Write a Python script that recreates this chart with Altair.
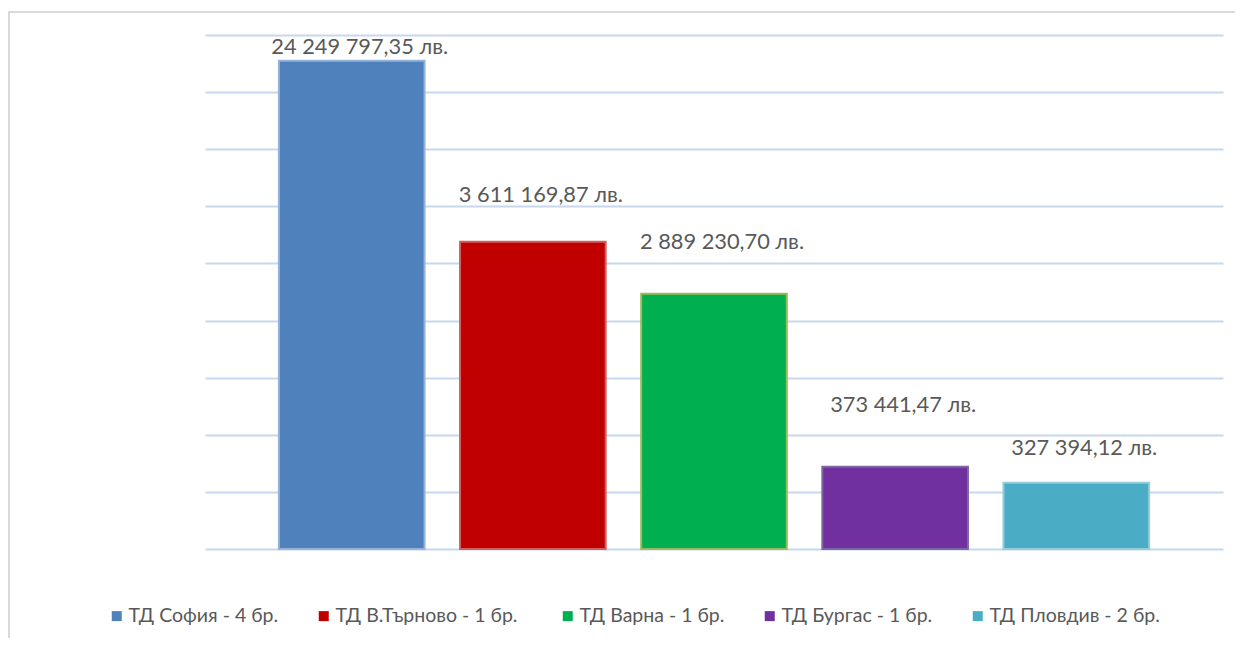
import altair as alt
import pandas as pd

categories = ["ТД София - 4 бр.", "ТД В.Търново  - 1 бр.", "ТД Варна - 1 бр.",
              "ТД Бургас - 1 бр.", "ТД Пловдив - 2 бр."]
bar_heights = [8.55, 5.38, 4.47, 1.44, 1.16]
# data-label texts and their vertical level on the same scale
label_texts = ["24 249 797,35 лв.", "3 611 169,87 лв.", "2 889 230,70 лв.",
               "373 441,47 лв.", "327 394,12 лв."]
label_levels = [8.79, 6.20, 5.38, 2.52, 1.77]

fill_colors = ["#4f81bd", "#c00000", "#00b050", "#7030a0", "#4bacc6"]
stroke_colors = ["#95b3d7", "#d06060", "#9bbb59", "#8064a2", "#92cddc"]

df = pd.DataFrame({
    "cat": categories,
    "h": bar_heights,
    "label": label_texts,
    "ly": label_levels,
})

FONT = "Lato"
W, H = 1018, 514

xs = alt.X("cat:N", sort=categories, axis=None,
           scale=alt.Scale(paddingInner=0.196, paddingOuter=0.408))

bars = alt.Chart(df).mark_bar(strokeWidth=2).encode(
    x=xs,
    y=alt.Y("h:Q", scale=alt.Scale(domain=[0, 9], nice=False),
            axis=alt.Axis(values=list(range(10)), labels=False, ticks=False,
                          domain=False, title=None, grid=True,
                          gridColor="#c6d7ee", gridWidth=2)),
    color=alt.Color("cat:N", sort=categories,
                    scale=alt.Scale(domain=categories, range=fill_colors),
                    legend=alt.Legend(
                        title=None, orient="none", direction="horizontal",
                        columns=5, legendX=-98, legendY=571,
                        symbolType="square", symbolSize=100,
                        symbolStrokeWidth=0, labelFont=FONT,
                        labelFontSize=19.5, labelColor="#595959",
                        labelOffset=2, columnPadding=35,
                        labelLimit=400)),
    stroke=alt.Stroke("cat:N", sort=categories,
                      scale=alt.Scale(domain=categories, range=stroke_colors),
                      legend=None),
)

labels = alt.Chart(df).mark_text(
    font=FONT, fontSize=21.8, color="#595959", baseline="middle", dx=8
).encode(
    x=xs,
    y=alt.Y("ly:Q"),
    text="label:N",
)

border_top = alt.Chart(df).mark_rule(color="#d9d9d9", strokeWidth=2).encode(
    x=alt.value(-197), x2=alt.value(W + 30), y=alt.value(-23)
)
border_left = alt.Chart(df).mark_rule(color="#d9d9d9", strokeWidth=2).encode(
    x=alt.value(-196), y=alt.value(-24), y2=alt.value(H + 90)
)

chart = alt.layer(border_top, border_left, bars, labels).properties(
    width=W, height=H,
    padding={"left": 197, "top": 27, "right": 12, "bottom": 89},
    autosize=alt.AutoSizeParams(type="none"),
    background="white",
).configure_view(stroke=None)

chart.save("out.html", embed_options={"renderer": "svg", "actions": False})
